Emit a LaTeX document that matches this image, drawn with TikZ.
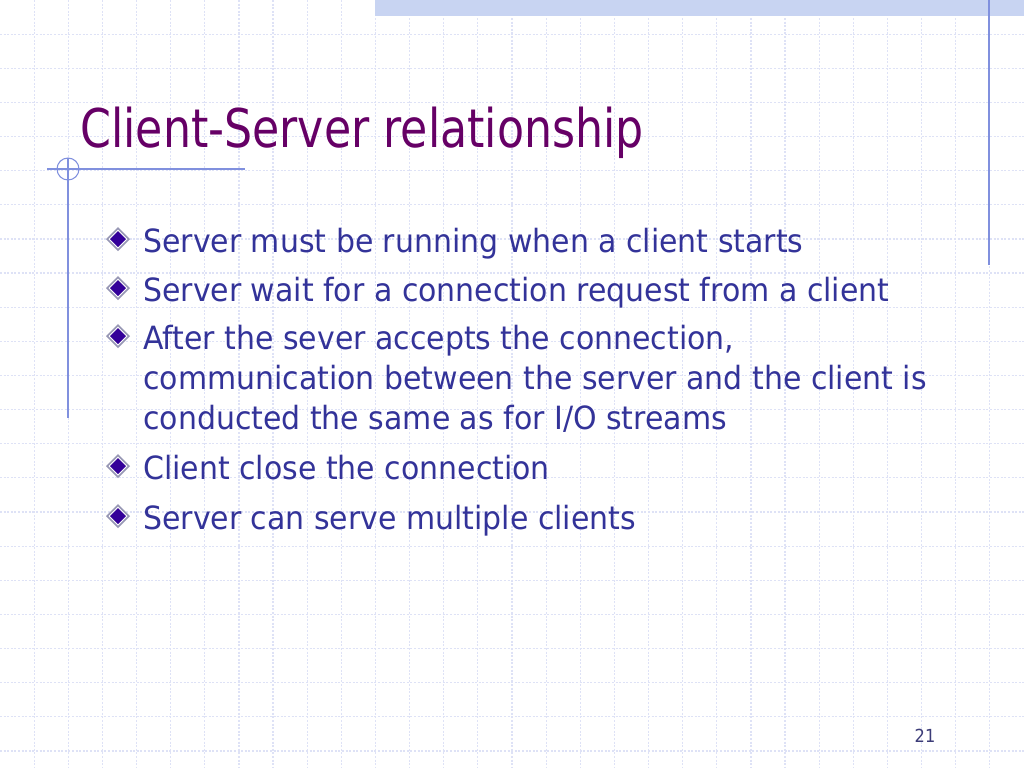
\documentclass[tikz,border=0pt]{standalone}
\usepackage{fontspec}
\newfontfamily\bodyfont{DejaVu Sans}[FakeStretch=0.936]
\newfontfamily\headfont{DejaVu Sans}[FakeStretch=0.83]
\newfontfamily\numfont{DejaVu Sans}[FakeStretch=0.9]
\definecolor{gridc}{RGB}{222,226,246}
\definecolor{barc}{RGB}{200,212,242}
\definecolor{linec}{RGB}{128,144,222}
\definecolor{titlec}{RGB}{102,0,102}
\definecolor{textc}{RGB}{51,51,153}
\definecolor{numc}{RGB}{60,60,120}
\definecolor{bulc}{RGB}{51,0,153}
\definecolor{bulrim}{RGB}{150,150,180}
\tikzset{
  gridl/.style={draw=gridc, line width=0.9pt, dash pattern=on 1.5pt off 1.2pt},
  deco/.style={draw=linec, line width=0.8pt},
  itemtext/.style={anchor=base west, inner sep=0pt, text=textc, font=\bodyfont\fontsize{24}{29}\selectfont},
  titletext/.style={anchor=base west, inner sep=0pt, text=titlec, font=\headfont\fontsize{40}{48}\selectfont},
  numtext/.style={anchor=base, inner sep=0pt, text=numc, font=\numfont\fontsize{13.5}{16}\selectfont},
  bull/.pic={
    \fill[bulrim] (-12,0)--(0,-12)--(12,0)--(0,12)--cycle;
    \fill[white] (-9.5,0)--(0,-9.5)--(9.5,0)--(0,9.5)--cycle;
    \fill[bulc] (-8,0)--(0,-8)--(8,0)--(0,8)--cycle;
  }
}
\begin{document}
\begin{tikzpicture}[x=0.75pt,y=-0.75pt]
\useasboundingbox (0,0) rectangle (1024,768);
\fill[white] (0,0) rectangle (1024,768);
% grid
\foreach \i in {1,...,29} \draw[gridl] ({\i*34.133},0) -- ({\i*34.133},768);
\foreach \j in {1,...,22} \draw[gridl] (0,{\j*34.133}) -- (1024,{\j*34.133});
% top bar
\fill[barc] (375,0) rectangle (1024,16);
% right vertical line
\draw[deco, line width=1.1pt] (989,0) -- (989,265);
% left decoration
\draw[deco] (47,169) -- (245,169);
\draw[deco] (68,158) -- (68,418);
\draw[deco] (68,169) circle[radius=11];
% title
\node[titletext] (title) at (80,147) {Client-Server relationship};
% bullets
\pic at (118,239) {bull};
\pic at (118,288) {bull};
\pic at (118,336) {bull};
\pic at (118,466) {bull};
\pic at (118,516) {bull};
% items
\node[itemtext] (i1) at (143,252) {Server must be running when a client starts};
\node[itemtext] (i2) at (143,301) {Server wait for a connection request from a client};
\node[itemtext] (i3a) at (143,349) {After the sever accepts the connection,};
\node[itemtext] (i3b) at (143,389) {communication between the server and the client is};
\node[itemtext] (i3c) at (143,429) {conducted the same as for I/O streams};
\node[itemtext] (i4) at (143,479) {Client close the connection};
\node[itemtext] (i5) at (143,529) {Server can serve multiple clients};
% page number
\node[numtext] (num) at (925,742) {21};
\end{tikzpicture}
\end{document}
